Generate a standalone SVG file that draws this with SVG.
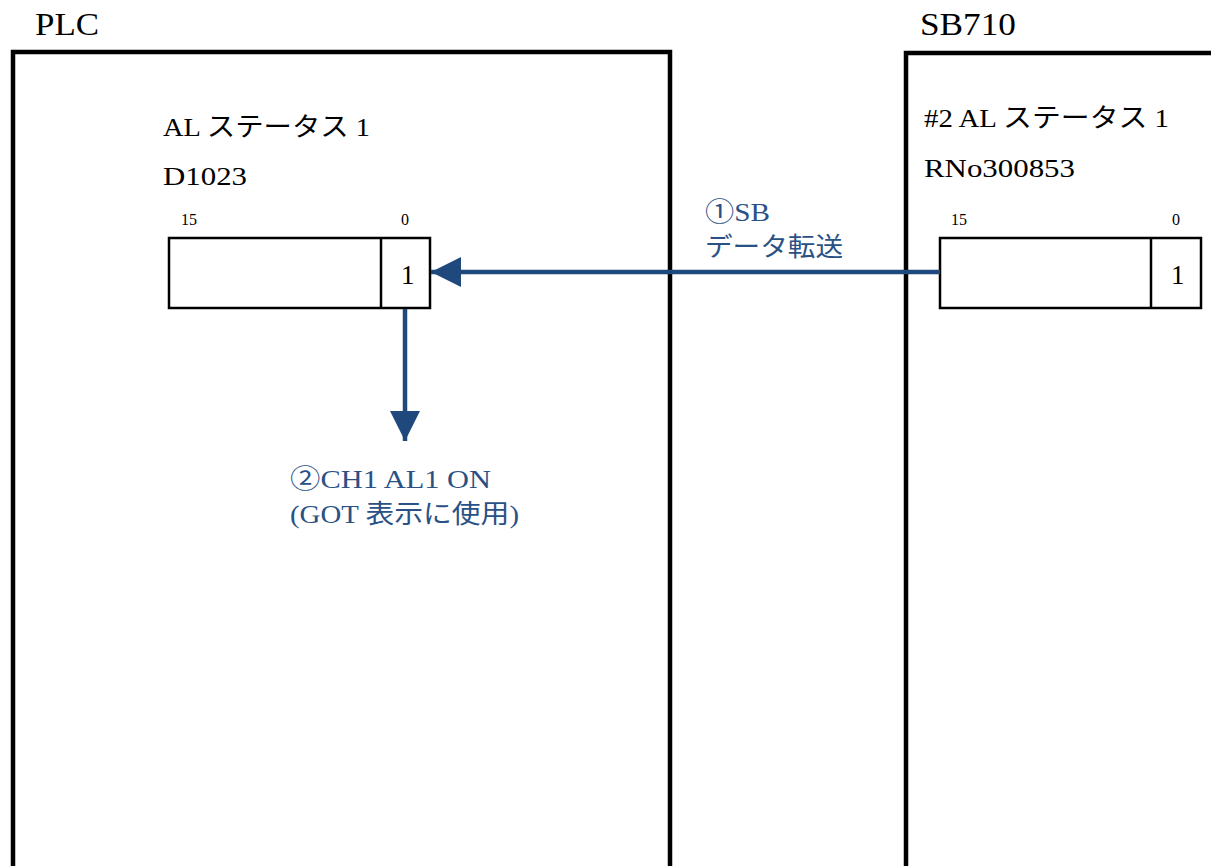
<svg xmlns="http://www.w3.org/2000/svg" width="1211" height="866" viewBox="0 0 1211 866">
<defs>
<style>
.t{font-family:"Liberation Serif","Noto Sans CJK JP",serif;fill:#000;}
.b{font-family:"Liberation Serif","Noto Sans CJK JP",serif;fill:#2a5185;}
.frame{fill:none;stroke:#000;stroke-width:4.5;}
.reg{fill:#fff;stroke:#000;stroke-width:2.5;}
.conn{fill:none;stroke:#1f497d;stroke-width:4.5;}
</style>
<marker id="ah" markerUnits="userSpaceOnUse" markerWidth="30" markerHeight="30" viewBox="0 0 26 26" refX="26" refY="13" orient="auto">
<path d="M0,0 L26,13 L0,26 Z" fill="#1f497d"/>
</marker>
</defs>
<rect width="1211" height="866" fill="#fff"/>
<g id="plc">
<text class="t" x="35" y="35" font-size="31" textLength="64" lengthAdjust="spacingAndGlyphs">PLC</text>
<path class="frame" d="M13,870 V52 H670 V870"/>
<text class="t" x="163" y="136" font-size="26" textLength="207" lengthAdjust="spacingAndGlyphs">AL ステータス 1</text>
<text class="t" x="163" y="185" font-size="26" textLength="84" lengthAdjust="spacingAndGlyphs">D1023</text>
<text class="t" x="181" y="225" font-size="16">15</text>
<text class="t" x="401" y="225" font-size="16">0</text>
<rect class="reg" x="169" y="238" width="261" height="70"/>
<line x1="381" y1="238" x2="381" y2="308" stroke="#000" stroke-width="2.5"/>
<text class="t" x="401" y="284" font-size="27">1</text>
</g>
<g id="sb710">
<text class="t" x="920" y="35" font-size="31" textLength="96" lengthAdjust="spacingAndGlyphs">SB710</text>
<path class="frame" d="M906,870 V53 H1215"/>
<text class="t" x="924" y="127" font-size="26" textLength="245" lengthAdjust="spacingAndGlyphs">#2 AL ステータス 1</text>
<text class="t" x="924" y="177" font-size="26" textLength="151" lengthAdjust="spacingAndGlyphs">RNo300853</text>
<text class="t" x="951" y="225" font-size="16">15</text>
<text class="t" x="1172" y="225" font-size="16">0</text>
<rect class="reg" x="940" y="238" width="261" height="70"/>
<line x1="1151" y1="238" x2="1151" y2="308" stroke="#000" stroke-width="2.5"/>
<text class="t" x="1171" y="284" font-size="27">1</text>
</g>
<g id="connectors">
<line class="conn" x1="940" y1="272" x2="431" y2="272" marker-end="url(#ah)"/>
<line class="conn" x1="405" y1="309" x2="405" y2="441" marker-end="url(#ah)"/>
</g>
<g id="labels">
<text class="b" x="705" y="221" font-size="26" textLength="65" lengthAdjust="spacingAndGlyphs">①SB</text>
<text class="b" x="705" y="256" font-size="26" textLength="138" lengthAdjust="spacingAndGlyphs">データ転送</text>
<text class="b" x="290" y="488" font-size="26" textLength="201" lengthAdjust="spacingAndGlyphs">②CH1 AL1 ON</text>
<text class="b" x="290" y="523" font-size="26" textLength="229" lengthAdjust="spacingAndGlyphs">(GOT 表示に使用)</text>
</g>
</svg>
